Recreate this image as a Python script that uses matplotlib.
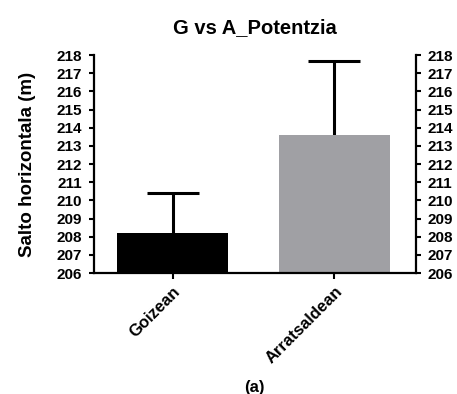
import numpy as np
import matplotlib.pyplot as plt

plt.rcParams['font.family'] = ['Liberation Sans', 'DejaVu Sans']
plt.rcParams['font.weight'] = 'bold'

# datos
groups = ['Goizean', 'Arratsaldean']
means = [208.2, 213.6]
errors = [2.2, 4.1]
colors = ['#000000', '#a0a0a4']

fig = plt.figure(figsize=(4.57, 3.94), dpi=100)
ax = fig.add_axes([0.206, 0.307, 0.704, 0.553])

x = np.arange(len(groups))
ax.bar(x, np.array(means) - 206, bottom=206, width=0.685, color=colors, zorder=2)
eb = ax.errorbar(x, means, yerr=[np.zeros(len(errors)), errors], fmt='none',
                 ecolor='black', elinewidth=2.2, capsize=19, capthick=2.2, zorder=1)
# solo la barra de error superior
eb[1][0].set_visible(False)

ax.set_xlim(-0.485, 1.503)
ax.set_ylim(206, 218)
ax.set_yticks(np.arange(206, 219, 1))
ax.set_xticks(x)
ax.set_xticklabels(groups, rotation=45, ha='right', rotation_mode='anchor', fontsize=12)
ax.tick_params(axis='y', labelsize=11, width=1.5, length=3.6, pad=5,
               right=True, labelright=True)
ax.tick_params(axis='x', width=1.5, length=4, pad=4)
ax.spines['top'].set_visible(False)
for s in ['left', 'right', 'bottom']:
    ax.spines[s].set_linewidth(1.6)

ax.set_ylabel('Salto horizontala (m)', fontsize=13.5, fontweight='bold', labelpad=15)
ax.set_title('G vs A_Potentzia', fontsize=14.5, fontweight='bold', pad=16)
fig.text(0.556, 0.006, '(a)', ha='center', fontsize=12, fontweight='bold')

fig.savefig('out.png', dpi=100)
